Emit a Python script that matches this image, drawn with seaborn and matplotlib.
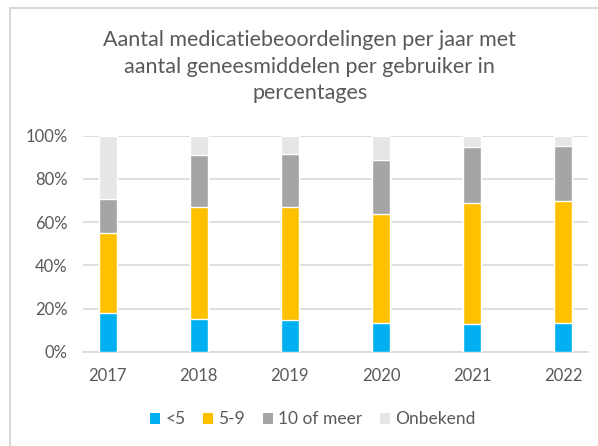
import numpy as np
import pandas as pd
import matplotlib
matplotlib.use("Agg")
import matplotlib.pyplot as plt
from matplotlib.patches import Patch, Rectangle
import seaborn as sns

# data (percent per year)
years = ["2017", "2018", "2019", "2020", "2021", "2022"]
lt5 = [17.7, 15.0, 14.5, 13.1, 12.8, 13.1]
r5_9 = [37.4, 52.1, 52.3, 50.5, 56.2, 56.5]
ten_plus = [15.7, 23.9, 24.6, 25.0, 25.9, 25.5]
unknown = [29.2, 9.0, 8.6, 11.4, 5.1, 4.9]

labels = ["<5", "5-9", "10 of meer", "Onbekend"]
colors = ["#00B0F0", "#FFC000", "#A5A5A5", "#E7E6E6"]

sns.set_theme(style="white")
plt.rcParams["font.family"] = ["Lato", "DejaVu Sans"]

df = pd.DataFrame({"jaar": years, "<5": lt5, "5-9": r5_9,
                   "10 of meer": ten_plus, "Onbekend": unknown})
cum = df[labels].cumsum(axis=1) / 100.0
cum["jaar"] = df["jaar"]

fig = plt.figure(figsize=(5.98, 4.46), dpi=100)
ax = fig.add_axes([0.139, 0.2114, 0.844, 0.4843])

# stacked bars: draw cumulative totals from top segment down
for lab, col in zip(labels[::-1], colors[::-1]):
    sns.barplot(data=cum, x="jaar", y=lab, color=col, width=0.2,
                saturation=1, ax=ax, zorder=3)

ax.set_xlim(-0.27, 5.27)
ax.set_ylim(0, 1)
ax.set_yticks(np.arange(0, 1.01, 0.2))
ax.set_yticklabels([f"{int(round(v * 100))}%" for v in np.arange(0, 1.01, 0.2)])
ax.yaxis.grid(True, color="#D9D9D9", linewidth=1.2, zorder=0)
ax.set_axisbelow(True)
ax.set_xlabel("")
ax.set_ylabel("")
for s in ["top", "right", "left"]:
    ax.spines[s].set_visible(False)
ax.spines["bottom"].set_color("#D9D9D9")
ax.spines["bottom"].set_linewidth(1.2)
ax.tick_params(axis="both", length=0, labelsize=12, labelcolor="#595959")
ax.tick_params(axis="y", pad=11)
ax.tick_params(axis="x", pad=12)

fig.text(0.518, 0.933, "Aantal medicatiebeoordelingen per jaar met\n"
         "aantal geneesmiddelen per gebruiker in\npercentages",
         ha="center", va="top", fontsize=15.5, color="#595959", linespacing=1.42)

handles = [Patch(facecolor=c, edgecolor="none") for c in colors]
fig.legend(handles, labels, loc="center", bbox_to_anchor=(0.523, 0.06),
           ncol=4, frameon=False, fontsize=12.5, labelcolor="#595959",
           handlelength=0.6, handleheight=0.6, handletextpad=0.3,
           columnspacing=1.0)

# chart border (left and top edges visible in the crop)
fig.patches.append(Rectangle((10 / 598, -0.1), 1.2, 1.1 - 8 / 446,
                             transform=fig.transFigure, fill=False,
                             edgecolor="#D9D9D9", linewidth=1.5))

fig.savefig("out.png", dpi=100)
